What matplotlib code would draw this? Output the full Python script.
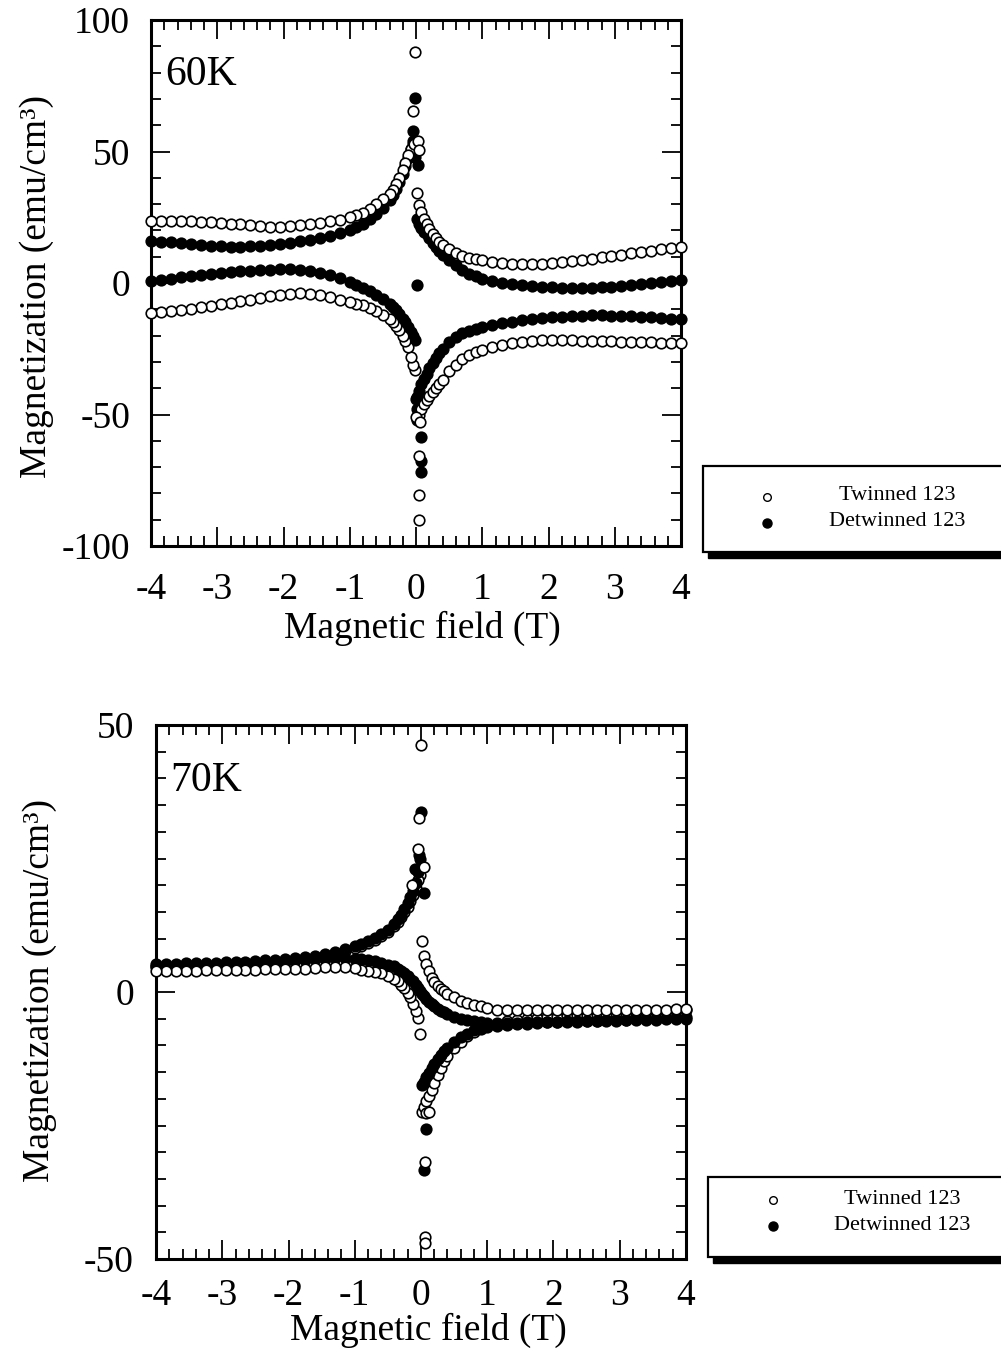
import matplotlib
matplotlib.use('Agg')
import matplotlib.pyplot as plt
from matplotlib.patches import Rectangle
from matplotlib.lines import Line2D
from matplotlib.ticker import MultipleLocator

plt.rcParams['font.family'] = ['Liberation Serif', 'DejaVu Serif']
plt.rcParams['axes.unicode_minus'] = False

# ---------------- data ----------------
# measured field magnitudes (T); left branches are plotted at -H
H = [0.02, 0.05, 0.08, 0.12, 0.16, 0.2, 0.25, 0.3, 0.35, 0.4,
     0.5, 0.6, 0.7, 0.8, 0.9, 1.0,
     1.15, 1.3, 1.45, 1.6, 1.75, 1.9, 2.05, 2.2, 2.35, 2.5,
     2.65, 2.8, 2.95, 3.1, 3.25, 3.4, 3.55, 3.7, 3.85, 4.0]

# 60 K, twinned (open)
tw60_ul = [51.0, 53.0, 51.0, 48.5, 45.5, 43.0, 40.0, 37.5, 35.5, 34.0,
           31.8, 30.0, 28.3, 26.8, 25.8, 25.0,
           24.1, 23.5, 23.0, 22.5, 22.0, 21.7, 21.4, 21.3, 21.6, 22.0,
           22.3, 22.6, 22.9, 23.1, 23.3, 23.4, 23.5, 23.5, 23.6, 23.6]
tw60_ur = [34.2, 29.5, 27.0, 24.5, 22.5, 20.5, 18.5, 17.0, 15.5, 14.5,
           12.8, 11.3, 10.3, 9.6, 9.0, 8.6,
           8.0, 7.6, 7.3, 7.2, 7.2, 7.4, 7.7, 8.0, 8.4, 8.8,
           9.3, 9.8, 10.3, 10.8, 11.3, 11.8, 12.3, 12.8, 13.2, 13.6]
tw60_ll = [-33.0, -31.0, -28.0, -24.5, -22.0, -20.0, -17.8, -16.3, -15.0, -13.8,
           -12.0, -10.6, -9.4, -8.5, -7.8, -7.2,
           -6.3, -5.4, -4.6, -4.0, -3.8, -4.0, -4.4, -5.0, -5.7, -6.3,
           -6.9, -7.5, -8.1, -8.7, -9.3, -9.8, -10.3, -10.8, -11.2, -11.5]
tw60_lr = [-51.0, -50.0, -48.0, -46.0, -44.5, -43.0, -41.5, -40.0, -38.5, -37.0,
           -33.5, -31.0, -29.0, -27.5, -26.3, -25.5,
           -24.5, -23.6, -23.0, -22.5, -22.1, -21.8, -21.7, -21.7, -21.8, -21.9,
           -22.0, -22.1, -22.2, -22.3, -22.4, -22.5, -22.6, -22.7, -22.8, -23.0]
tw60_spike_h = [-0.02, -0.04, -0.03, 0.03, 0.04, 0.0, 0.06, 0.05, 0.05, 0.05]
tw60_spike_m = [88.0, 65.4, 52.7, 54.0, 50.6, -51.0, -53.0, -65.6, -80.5, -90.2]

# 60 K, detwinned (filled)
dt60_ul = [48.0, 54.0, 51.0, 47.5, 44.5, 41.5, 38.5, 35.8, 33.5, 31.5,
           28.5, 26.2, 24.2, 22.6, 21.4, 20.3,
           19.0, 17.9, 17.1, 16.4, 15.8, 15.3, 14.8, 14.4, 14.1, 13.9,
           13.8, 13.8, 14.0, 14.2, 14.5, 14.8, 15.1, 15.4, 15.7, 15.9]
dt60_ur = [24.5, 22.5, 21.0, 19.5, 18.5, 17.0, 15.2, 13.5, 12.0, 10.7,
           8.6, 6.7, 5.0, 3.6, 2.5, 1.5,
           0.6, 0.0, -0.5, -0.9, -1.2, -1.5, -1.7, -1.8, -1.9, -1.9,
           -1.8, -1.6, -1.4, -1.1, -0.8, -0.5, -0.1, 0.3, 0.8, 1.3]
dt60_ll = [-21.5, -20.0, -18.5, -16.8, -15.0, -13.5, -11.8, -10.3, -9.0, -8.0,
           -6.0, -4.5, -3.0, -1.8, -0.7, 0.3,
           1.8, 2.9, 3.9, 4.6, 5.0, 5.2, 5.2, 5.1, 4.9, 4.7,
           4.4, 4.1, 3.8, 3.4, 3.0, 2.6, 2.1, 1.6, 1.1, 0.6]
dt60_lr = [-43.5, -41.0, -38.5, -36.5, -34.5, -32.5, -30.5, -28.5, -26.5, -25.0,
           -22.5, -20.5, -19.2, -18.2, -17.4, -16.8,
           -16.0, -15.3, -14.7, -14.2, -13.8, -13.4, -13.1, -12.8, -12.6, -12.4,
           -12.3, -12.3, -12.4, -12.5, -12.7, -12.9, -13.1, -13.3, -13.5, -13.7]
dt60_spike_h = [-0.02, -0.05, 0.03, 0.02, 0.0, 0.01, 0.02, 0.08, 0.08, 0.07]
dt60_spike_m = [70.5, 57.7, 45.0, -0.8, -44.0, -48.0, -52.0, -58.7, -67.6, -72.0]

# 70 K, twinned (open)
tw70_ul = [22.0, 21.0, 19.5, 18.2, 17.0, 16.0, 15.0, 14.0, 13.2, 12.4,
           11.3, 10.5, 9.8, 9.2, 8.7, 8.2,
           7.6, 7.1, 6.7, 6.4, 6.1, 5.9, 5.7, 5.6, 5.5, 5.4,
           5.3, 5.2, 5.2, 5.1, 5.1, 5.0, 5.0, 4.9, 4.9, 4.9]
tw70_ll = [-7.9, -4.8, -3.6, -2.3, -1.0, -0.2, 0.7, 1.4, 2.0, 2.5,
           3.0, 3.5, 3.7, 3.9, 4.2, 4.5,
           4.6, 4.7, 4.6, 4.5, 4.4, 4.4, 4.3, 4.3, 4.3, 4.2,
           4.2, 4.2, 4.1, 4.1, 4.1, 4.0, 4.0, 4.0, 3.9, 3.9]
tw70_ur = [9.6, 6.7, 5.2, 4.0, 2.6, 1.8, 1.1, 0.6, 0.1, -0.3,
           -1.0, -1.6, -2.0, -2.4, -2.7, -3.0,
           -3.3, -3.4, -3.4, -3.4, -3.4, -3.4, -3.4, -3.4, -3.4, -3.4,
           -3.4, -3.4, -3.4, -3.4, -3.4, -3.3, -3.3, -3.3, -3.2, -3.2]
tw70_lr = [-22.5, -21.5, -20.5, -19.5, -18.3, -17.0, -15.5, -14.2, -13.0, -12.0,
           -10.5, -9.3, -8.3, -7.5, -6.9, -6.4,
           -5.9, -5.5, -5.2, -5.0, -4.8, -4.7, -4.6, -4.5, -4.4, -4.3,
           -4.2, -4.1, -4.0, -3.9, -3.8, -3.7, -3.6, -3.5, -3.4, -3.3]
tw70_spike_h = [0.0, -0.03, -0.05, 0.04, -0.14, 0.07, 0.12, 0.06, 0.06, 0.06]
tw70_spike_m = [46.3, 32.5, 26.8, 23.5, 20.1, -22.7, -22.4, -31.8, -45.9, -47.0]

# 70 K, detwinned (filled)
dt70_ul = [25.0, 22.5, 20.5, 19.0, 17.7, 16.6, 15.5, 14.5, 13.6, 12.8,
           11.7, 10.9, 10.2, 9.6, 9.0, 8.6,
           8.0, 7.5, 7.1, 6.8, 6.5, 6.3, 6.1, 6.0, 5.9, 5.8,
           5.7, 5.6, 5.6, 5.5, 5.5, 5.4, 5.4, 5.3, 5.3, 5.3]
dt70_ll = [0.2, 0.7, 1.3, 2.0, 2.5, 3.0, 3.5, 4.0, 4.4, 4.8,
           5.1, 5.5, 5.8, 6.0, 6.1, 6.2,
           6.3, 6.3, 6.2, 6.1, 6.0, 5.9, 5.8, 5.7, 5.6, 5.5,
           5.4, 5.3, 5.2, 5.1, 5.0, 5.0, 4.9, 4.8, 4.8, 4.7]
dt70_ur = [-0.3, -0.8, -1.3, -1.8, -2.3, -2.7, -3.1, -3.5, -3.8, -4.1,
           -4.6, -5.0, -5.3, -5.5, -5.7, -5.8,
           -5.8, -5.8, -5.8, -5.7, -5.7, -5.6, -5.6, -5.5, -5.5, -5.4,
           -5.4, -5.3, -5.2, -5.2, -5.1, -5.0, -5.0, -4.9, -4.8, -4.7]
dt70_lr = [-17.5, -16.8, -16.0, -15.2, -14.3, -13.5, -12.6, -11.8, -11.0, -10.4,
           -9.3, -8.5, -7.8, -7.2, -6.8, -6.5,
           -6.3, -6.1, -6.0, -5.9, -5.8, -5.7, -5.7, -5.6, -5.6, -5.5,
           -5.5, -5.4, -5.4, -5.3, -5.3, -5.2, -5.2, -5.1, -5.1, -5.0]
dt70_spike_h = [0.0, -0.03, -0.09, 0.04, 0.08, 0.05]
dt70_spike_m = [33.8, 25.6, 23.0, 18.5, -25.6, -33.4]

legend_labels = ['Twinned 123', 'Detwinned 123']
panel_labels = ['60K', '70K']
ylabel = 'Magnetization (emu/cm\u00b3)'
xlabel = 'Magnetic field (T)'

# ---------------- figure ----------------
W, Hpx = 1001, 1355
fig = plt.figure(figsize=(W / 100, Hpx / 100), dpi=100)


def fx(x):
    return x / W


def fy(y):
    return 1 - y / Hpx


MS = 7.6
MEW = 1.2


def branches(ax, neg_vals, pos_vals, filled, z):
    negH = [-h for h in H]
    kw = dict(ls='none', marker='o', ms=MS, mew=MEW, mec='black',
              mfc='black' if filled else 'white', zorder=z, clip_on=False)
    ax.plot(negH, neg_vals, **kw)
    ax.plot(H, pos_vals, **kw)


def style(ax, ymin, ymax, ymaj, ymin_step, xpad, ypad):
    ax.set_xlim(-4, 4)
    ax.set_ylim(ymin, ymax)
    ax.xaxis.set_major_locator(MultipleLocator(1))
    ax.xaxis.set_minor_locator(MultipleLocator(0.2))
    ax.yaxis.set_major_locator(MultipleLocator(ymaj))
    ax.yaxis.set_minor_locator(MultipleLocator(ymin_step))
    ax.tick_params(which='both', direction='in', top=True, right=True, width=1.3)
    ax.tick_params(which='major', length=14, labelsize=27)
    ax.tick_params(which='minor', length=7)
    ax.tick_params(axis='x', pad=xpad)
    ax.tick_params(axis='y', pad=ypad)
    for s in ax.spines.values():
        s.set_linewidth(2.2)


# top panel (60 K)
ax1 = fig.add_axes([fx(151), fy(546), fx(530), 526 / Hpx])
style(ax1, -100, 100, 50, 10, 19, 15)
branches(ax1, dt60_ul, dt60_ur, True, 2)
branches(ax1, dt60_ll, dt60_lr, True, 2)
ax1.plot(dt60_spike_h, dt60_spike_m, ls='none', marker='o', ms=MS, mew=MEW,
         mec='black', mfc='black', zorder=2)
branches(ax1, tw60_ul, tw60_ur, False, 3)
branches(ax1, tw60_ll, tw60_lr, False, 3)
ax1.plot(tw60_spike_h, tw60_spike_m, ls='none', marker='o', ms=MS, mew=MEW,
         mec='black', mfc='white', zorder=3)
ax1.text(0.026, 0.895, panel_labels[0], transform=ax1.transAxes,
         fontsize=30, va='center', ha='left')

# bottom panel (70 K)
ax2 = fig.add_axes([fx(156), fy(1259), fx(530), 534 / Hpx])
style(ax2, -50, 50, 50, 5, 14, 16)
branches(ax2, tw70_ul, tw70_lr, False, 1)
branches(ax2, dt70_ul, dt70_ur, True, 2)
branches(ax2, dt70_ll, dt70_lr, True, 2)
ax2.plot(dt70_spike_h, dt70_spike_m, ls='none', marker='o', ms=MS, mew=MEW,
         mec='black', mfc='black', zorder=2)
branches(ax2, tw70_ll, tw70_ur, False, 3)
ax2.plot(tw70_spike_h, tw70_spike_m, ls='none', marker='o', ms=MS, mew=MEW,
         mec='black', mfc='white', zorder=3)
ax2.text(0.026, 0.895, panel_labels[1], transform=ax2.transAxes,
         fontsize=30, va='center', ha='left')

# axis titles
fig.text(fx(37), fy(287), ylabel, rotation=90, ha='center', va='center', fontsize=27)
fig.text(fx(422), fy(628), xlabel, ha='center', va='center', fontsize=27)
fig.text(fx(40), fy(990), ylabel, rotation=90, ha='center', va='center', fontsize=27)
fig.text(fx(428), fy(1330), xlabel, ha='center', va='center', fontsize=27)


def legend_box(x0, y0, x1, y1, mx, tx, rows):
    sh = Rectangle((fx(x0 + 5), fy(y1 + 6)), fx(x1 - x0), (y1 - y0) / Hpx,
                   transform=fig.transFigure, facecolor='black', edgecolor='black',
                   lw=1.0, zorder=5)
    bx = Rectangle((fx(x0), fy(y1)), fx(x1 - x0), (y1 - y0) / Hpx,
                   transform=fig.transFigure, facecolor='white', edgecolor='black',
                   lw=1.6, zorder=6)
    fig.add_artist(sh)
    fig.add_artist(bx)
    fills = ['white', 'black']
    sizes = [5.5, 6.5]
    for (ry, lab), fc, s in zip(rows, fills, sizes):
        fig.add_artist(Line2D([fx(mx)], [fy(ry)], transform=fig.transFigure,
                              ls='none', marker='o', ms=s, mew=1.0, mec='black',
                              mfc=fc, zorder=7))
        fig.text(fx(tx), fy(ry - 1), lab, ha='center', va='center',
                 fontsize=16, zorder=7)


legend_box(703, 466, 1010, 552, 767, 897,
           [(497, legend_labels[0]), (523, legend_labels[1])])
legend_box(708, 1177, 1010, 1257, 773, 902,
           [(1200, legend_labels[0]), (1226, legend_labels[1])])

fig.savefig('out.png', dpi=100)
